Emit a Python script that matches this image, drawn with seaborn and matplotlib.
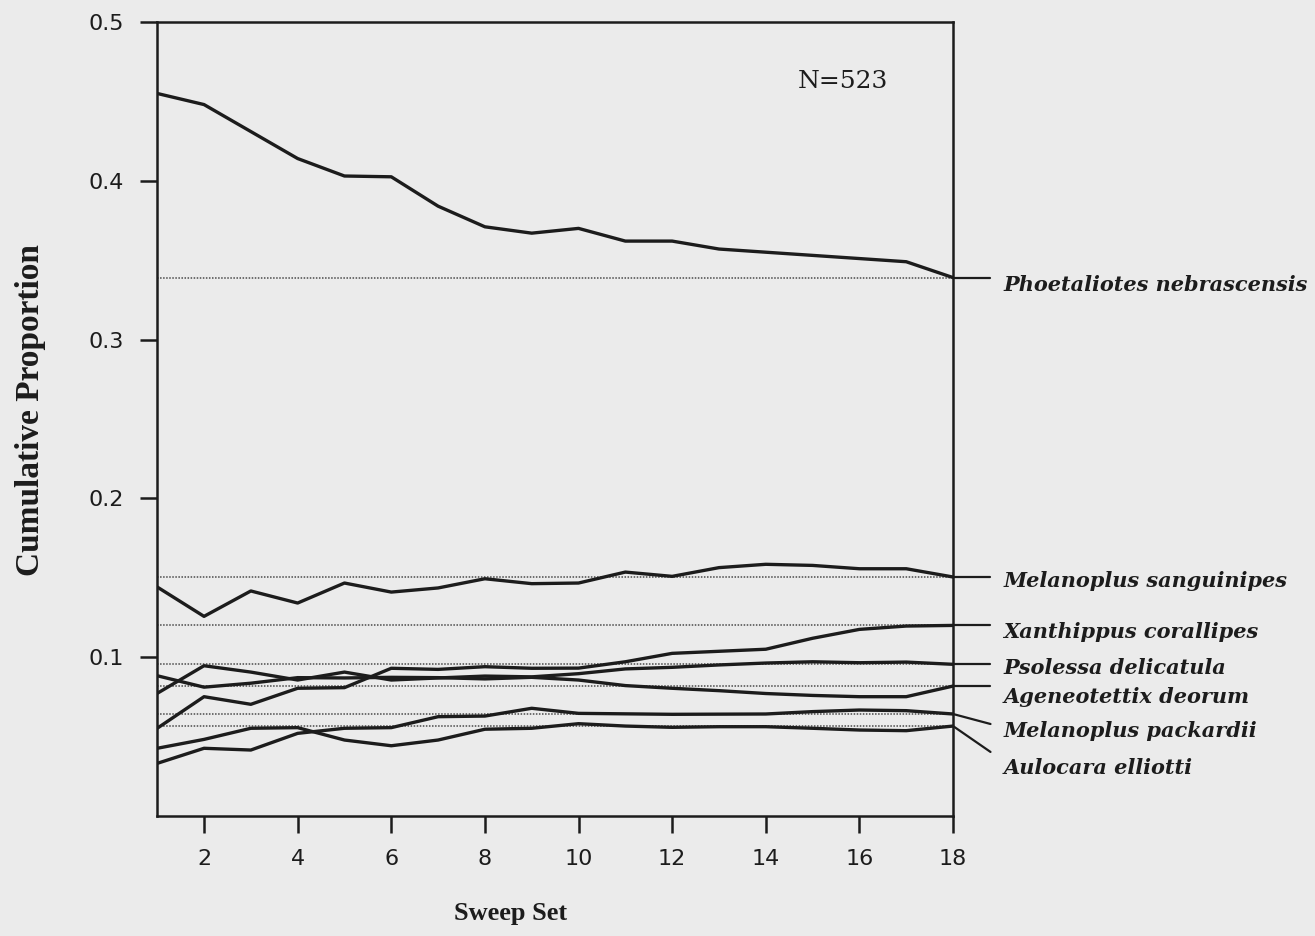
import matplotlib
matplotlib.use("Agg")
import matplotlib.pyplot as plt
import seaborn as sns
import pandas as pd

# ---------------- data ----------------
sweep = list(range(1, 19))

species = [
    "Phoetaliotes nebrascensis",
    "Melanoplus sanguinipes",
    "Xanthippus corallipes",
    "Psolessa delicatula",
    "Ageneotettix deorum",
    "Melanoplus packardii",
    "Aulocara elliotti",
]

phoetaliotes = [0.455, 0.448, 0.431, 0.414, 0.403, 0.4025, 0.384, 0.371, 0.367,
                0.370, 0.362, 0.362, 0.357, 0.355, 0.353, 0.351, 0.349, 0.339]
sanguinipes = [0.1441, 0.1256, 0.1416, 0.1340, 0.1466, 0.1409, 0.1435, 0.1493, 0.1462,
               0.1466, 0.1535, 0.1508, 0.1563, 0.1584, 0.1577, 0.1556, 0.1556, 0.1504]
xanthippus = [0.0551, 0.0750, 0.0702, 0.0803, 0.0807, 0.0929, 0.0922, 0.0939, 0.0929,
              0.0930, 0.0970, 0.1023, 0.1036, 0.1049, 0.1118, 0.1174, 0.1195, 0.1199]
psolessa = [0.0771, 0.0945, 0.0905, 0.0855, 0.0905, 0.0855, 0.0868, 0.0880, 0.0875,
            0.0895, 0.0925, 0.0935, 0.0950, 0.0962, 0.0970, 0.0964, 0.0968, 0.0954]
ageneotettix = [0.0882, 0.0810, 0.0835, 0.0870, 0.0868, 0.0872, 0.0870, 0.0862, 0.0872,
                0.0855, 0.0820, 0.0803, 0.0788, 0.0770, 0.0758, 0.0750, 0.0750, 0.0817]
packardii = [0.0330, 0.0425, 0.0414, 0.0519, 0.0551, 0.0555, 0.0624, 0.0628, 0.0677,
             0.0645, 0.0642, 0.0639, 0.0640, 0.0641, 0.0656, 0.0666, 0.0662, 0.0641]
aulocara = [0.0425, 0.0481, 0.0551, 0.0555, 0.0477, 0.0441, 0.0477, 0.0545, 0.0551,
            0.0580, 0.0565, 0.0557, 0.0561, 0.0561, 0.0551, 0.0540, 0.0536, 0.0565]

series = [phoetaliotes, sanguinipes, xanthippus, psolessa, ageneotettix, packardii, aulocara]

y_ticks = [0.1, 0.2, 0.3, 0.4, 0.5]
y_tick_labels = ["0.1", "0.2", "0.3", "0.4", "0.5"]
x_ticks = [2, 4, 6, 8, 10, 12, 14, 16, 18]
x_tick_labels = [str(v) for v in x_ticks]
sample_note = "N=523"

# ---------------- layout (not data) ----------------
label_y = [0.3343, 0.1479, 0.1157, 0.0931, 0.0748, 0.0534, 0.0301]   # label centres
tie_y = [None, None, None, None, None, 0.0578, 0.0402]               # connector ends
tie_x = 18.8
label_x = 19.07

# ---------------- figure ----------------
bg = "#ebebeb"
ink = "#1c1c1c"

sns.set_theme(style="ticks")
plt.rcParams["font.family"] = ["DejaVu Sans"]

rows = []
for name, vals in zip(species, series):
    for s, v in zip(sweep, vals):
        rows.append({"species": name, "sweep": s, "proportion": v})
df = pd.DataFrame(rows)

fig = plt.figure(figsize=(13.15, 9.36), dpi=100, facecolor=bg)
ax = fig.add_axes([0.11955, 0.12847, 0.6052, 0.8480])
ax.set_facecolor(bg)

sns.lineplot(data=df, x="sweep", y="proportion", hue="species",
             palette={n: ink for n in species}, linewidth=2.4,
             estimator=None, sort=False, legend=False, ax=ax, zorder=3)

finals = [vals[-1] for vals in series]
ax.hlines(finals, 1, 18, colors="#4a4a4a", linestyles=(0, (1, 1)), linewidth=1.1, zorder=2)

ax.set_xlim(1, 18)
ax.set_ylim(0, 0.5)
ax.set_xticks(x_ticks)
ax.set_xticklabels(x_tick_labels)
ax.set_yticks(y_ticks)
ax.set_yticklabels(y_tick_labels)
ax.tick_params(direction="out", length=12, width=1.8, color=ink,
               labelsize=16, labelcolor=ink, pad=12)

for sp in ax.spines.values():
    sp.set_visible(True)
    sp.set_linewidth(1.8)
    sp.set_color(ink)

ax.set_xlabel("Sweep Set", fontsize=19, family="Liberation Serif", weight="bold",
              color=ink, va="center")
ax.set_ylabel("Cumulative Proportion", fontsize=24, family="Liberation Serif",
              weight="bold", color=ink, va="center")
ax.xaxis.set_label_coords(0.4435, -0.123)
ax.yaxis.set_label_coords(-0.1595, 0.511)

ax.text(0.862, 0.925, sample_note, transform=ax.transAxes, ha="center", va="center",
        fontsize=18, family="DejaVu Serif", color=ink)

for name, fv, ly, ty in zip(species, finals, label_y, tie_y):
    end_y = fv if ty is None else ty
    ax.plot([18, tie_x], [fv, end_y], color=ink, lw=1.6, clip_on=False, zorder=3)
    ax.text(label_x, ly, name, ha="left", va="center", fontsize=15,
            family="DejaVu Serif", style="italic", weight="bold", color=ink,
            clip_on=False)

fig.savefig("out.png", dpi=100, facecolor=bg)
